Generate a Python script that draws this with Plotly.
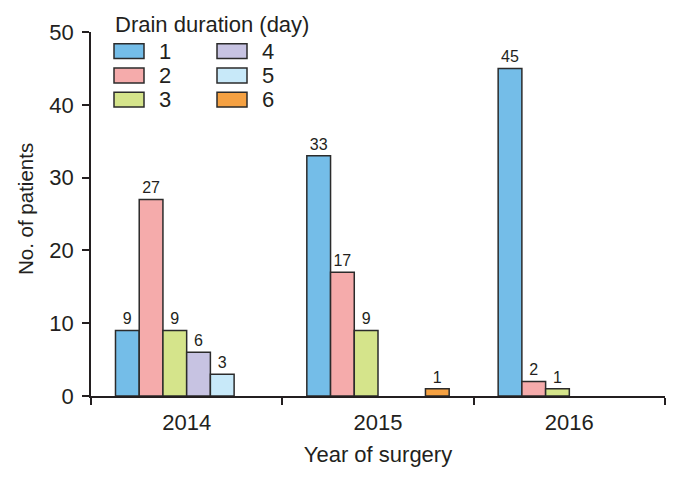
import plotly.graph_objects as go

years = ["2014", "2015", "2016"]
series_names = ["1", "2", "3", "4", "5", "6"]
values = [
    [9, 33, 45],   # 1 day
    [27, 17, 2],   # 2 days
    [9, 9, 1],     # 3 days
    [6, 0, 0],     # 4 days
    [3, 0, 0],     # 5 days
    [0, 1, 0],     # 6 days
]
colors = ["#74BDE8", "#F5ABAB", "#D5E48B", "#C7C3E2", "#C8E9F9", "#F5A142"]
y_ticks = [0, 10, 20, 30, 40, 50]

FONT = "Liberation Sans, Arial, sans-serif"
TXT = "#231F20"
OFF = 8  # page offset of the rendered figure
W, H = 678 - OFF, 479 - OFF
L, R, T, B = 91 - OFF, 13, 30 - OFF, 83
PW, PH = W - L - R, H - T - B

def px_x(px):
    return (px - OFF - L) / PW

def px_y(py):
    return (H - B - (py - OFF)) / PH

fig = go.Figure()
for name, vals, col in zip(series_names, values, colors):
    fig.add_trace(go.Bar(
        x=years, y=vals, name=name,
        marker=dict(color=col, line=dict(color="#2B2B2B",
                                         width=[1.5 if v else 0 for v in vals])),
        text=[str(v) if v else "" for v in vals],
        textposition="outside",
        textfont=dict(size=16, color=TXT, family=FONT),
        constraintext="none",
        cliponaxis=False,
        showlegend=False,
    ))

# manual legend (two columns, column-major order)
shapes = []
annotations = [dict(
    text="Drain duration (day)", xref="paper", yref="paper",
    x=px_x(113), y=px_y(22), xanchor="left", yanchor="middle",
    showarrow=False, font=dict(size=22, color=TXT, family=FONT),
)]
row_y = [49.2, 73.8, 98.0]
col_x = [114, 217]
for i, (name, col) in enumerate(zip(series_names, colors)):
    c, r = divmod(i, 3)
    x0 = col_x[c]
    yc = row_y[r]
    shapes.append(dict(
        type="rect", xref="paper", yref="paper",
        x0=px_x(x0), x1=px_x(x0 + 30), y0=px_y(yc + 7.5), y1=px_y(yc - 7.5),
        fillcolor=col, line=dict(color="#2B2B2B", width=1.5),
    ))
    annotations.append(dict(
        text=name, xref="paper", yref="paper",
        x=px_x(x0 + 43), y=px_y(yc), xanchor="left", yanchor="middle",
        showarrow=False, font=dict(size=22, color=TXT, family=FONT),
    ))

# y-axis title (placed slightly above the axis centre as in the reference)
annotations.append(dict(
    text="No. of patients", xref="paper", yref="paper",
    x=px_x(25), y=px_y(208), xanchor="center", yanchor="middle",
    textangle=-90, showarrow=False, font=dict(size=20.5, color=TXT, family=FONT),
))

fig.update_layout(
    width=W, height=H,
    margin=dict(l=L, r=R, t=T, b=B),
    paper_bgcolor="white", plot_bgcolor="white",
    barmode="group", bargap=0.256, bargroupgap=0,
    font=dict(family=FONT, color=TXT, size=22),
    shapes=shapes, annotations=annotations,
    xaxis=dict(
        range=[-0.5, 2.5], showline=True, linecolor="#231F20", linewidth=1.5,
        ticks="outside", tickson="boundaries", ticklen=7, tickwidth=1.5,
        tickcolor="#231F20", showgrid=False, ticklabelstandoff=6,
        tickfont=dict(size=22, color=TXT, family=FONT),
        title=dict(text="Year of surgery", font=dict(size=22, color=TXT, family=FONT), standoff=12),
    ),
    yaxis=dict(
        range=[0, 50], tickvals=y_ticks, showline=True, linecolor="#231F20", linewidth=1.5,
        ticks="outside", ticklen=7, tickwidth=1.5, tickcolor="#231F20",
        showgrid=False, zeroline=False, ticklabelstandoff=4,
        tickfont=dict(size=22, color=TXT, family=FONT),
    ),
)

fig.write_html("out.html")
